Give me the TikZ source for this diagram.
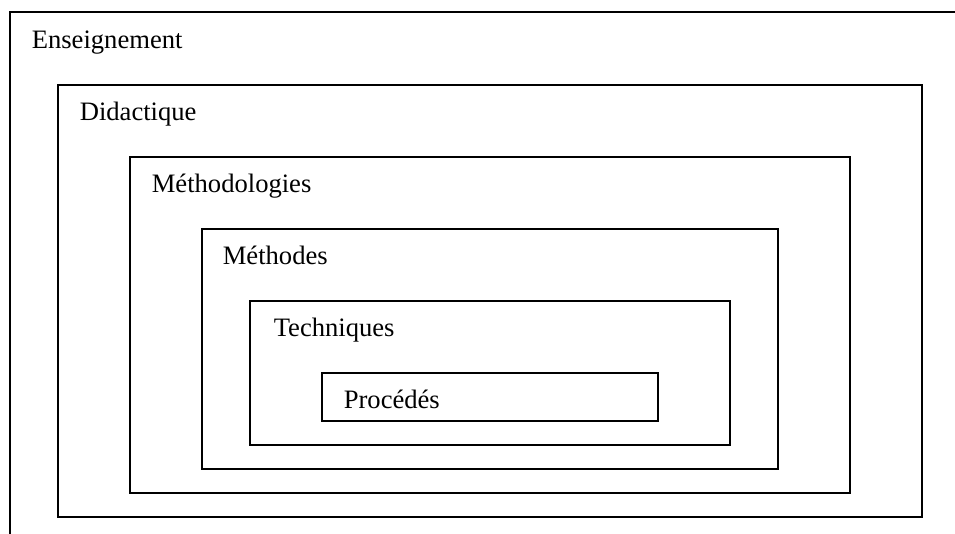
\documentclass[tikz,border=0pt]{standalone}
\usepackage{fontspec}
\setmainfont{Liberation Serif}
\usepackage{tikz}

\begin{document}
\begin{tikzpicture}
      [ x=1pt, y=-1pt, line width=1.6pt,
        cadre/.style={draw, line join=miter},
        titre/.style={anchor=base west, inner sep=0pt, font=\fontsize{26.6}{30}\selectfont}
      ]
      \clip (0,0) rectangle (955,534);

      % boites imbriquees
      \draw[cadre] (10,12)   rectangle (990,570);
      \draw[cadre] (58,85)   rectangle (922,517);
      \draw[cadre] (130,157) rectangle (850,493);
      \draw[cadre] (202,229) rectangle (778,469);
      \draw[cadre] (250,301) rectangle (730,445);
      \draw[cadre] (322,373) rectangle (658,421);

      % titres
      \node[titre] (enseignement) at (31,49)   {Enseignement};
      \node[titre] (didactique)   at (79,121)  {Didactique};
      \node[titre] (methodologies) at (151,193) {Méthodologies};
      \node[titre] (methodes)     at (222,265) {Méthodes};
      \node[titre] (techniques)   at (273,337) {Techniques};
      \node[titre] (procedes)     at (343,408) {Procédés};
    \end{tikzpicture}
\end{document}
